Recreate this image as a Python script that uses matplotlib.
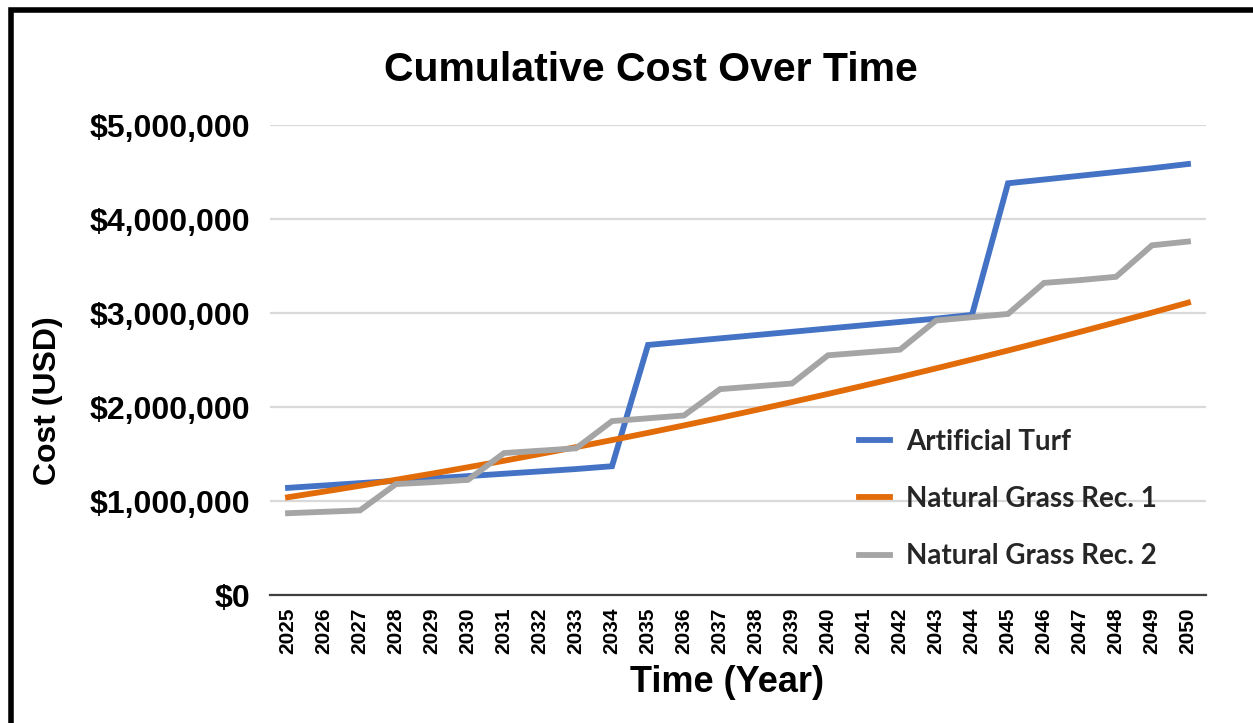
import matplotlib
matplotlib.use("Agg")
import matplotlib.pyplot as plt
from matplotlib.patches import Rectangle
from matplotlib.ticker import FuncFormatter

years = [str(y) for y in range(2025, 2051)]

# cumulative cost in USD
artificial_turf = [
    1.14e6, 1.165e6, 1.19e6, 1.215e6, 1.24e6, 1.265e6, 1.29e6, 1.315e6, 1.34e6, 1.37e6,
    2.66e6, 2.695e6, 2.73e6, 2.765e6, 2.80e6, 2.835e6, 2.87e6, 2.905e6, 2.94e6, 2.98e6,
    4.38e6, 4.42e6, 4.46e6, 4.50e6, 4.54e6, 4.585e6,
]
natural_grass_1 = [
    1.04e6, 1.10e6, 1.162e6, 1.226e6, 1.291e6, 1.359e6, 1.428e6, 1.50e6, 1.573e6, 1.648e6,
    1.725e6, 1.804e6, 1.885e6, 1.968e6, 2.053e6, 2.139e6, 2.228e6, 2.318e6, 2.411e6, 2.505e6,
    2.601e6, 2.699e6, 2.799e6, 2.901e6, 3.004e6, 3.11e6,
]
natural_grass_2 = [
    0.87e6, 0.885e6, 0.90e6, 1.18e6, 1.20e6, 1.225e6, 1.51e6, 1.535e6, 1.56e6, 1.85e6,
    1.88e6, 1.91e6, 2.19e6, 2.22e6, 2.25e6, 2.55e6, 2.58e6, 2.61e6, 2.92e6, 2.955e6,
    2.99e6, 3.32e6, 3.35e6, 3.385e6, 3.72e6, 3.76e6,
]
series_names = ["Artificial Turf", "Natural Grass Rec. 1", "Natural Grass Rec. 2"]
series_colors = ["#4472C4", "#E36C0A", "#A5A5A5"]

W, H = 1253, 723
fig = plt.figure(figsize=(W / 100, H / 100), dpi=100)


def px_box(left, top, right, bottom):
    return [left / W, 1 - bottom / H, (right - left) / W, (bottom - top) / H]


ax = fig.add_axes(px_box(270, 125, 1206, 595))
x = list(range(len(years)))
for vals, name, col in zip([artificial_turf, natural_grass_1, natural_grass_2], series_names, series_colors):
    ax.plot(x, vals, color=col, lw=4.2, label=name, solid_joinstyle="miter")

ax.set_xlim(-0.5, len(years) - 0.5)
ax.set_ylim(0, 5e6)
ax.set_yticks([0, 1e6, 2e6, 3e6, 4e6, 5e6])
ax.yaxis.set_major_formatter(FuncFormatter(lambda v, p: f"${v:,.0f}"))
ax.set_xticks(x)
ax.set_xticklabels(years, rotation=90)
ax.grid(axis="y", color="#D9D9D9", lw=1.6)
ax.set_axisbelow(True)
for s in ["top", "right", "left"]:
    ax.spines[s].set_visible(False)
ax.spines["bottom"].set_color("#404040")
ax.spines["bottom"].set_linewidth(1.6)
ax.tick_params(axis="y", length=0, pad=14, labelsize=23)
ax.tick_params(axis="x", length=0, pad=9, labelsize=15)
for lab in ax.get_yticklabels():
    lab.set_fontfamily("Liberation Sans")
    lab.set_fontweight("bold")
for lab in ax.get_xticklabels():
    lab.set_fontfamily(["Liberation Sans Narrow", "Liberation Sans"])
    lab.set_fontweight("bold")

leg = ax.legend(loc="upper left", bbox_to_anchor=(834 / W, 1 - 404 / H), bbox_transform=fig.transFigure,
                frameon=False, handlelength=1.1, handletextpad=0.6, labelspacing=1.12,
                prop={"family": "Lato", "weight": "bold", "size": 20})
for t in leg.get_texts():
    t.set_color("#262626")

fig.text(651 / W, 1 - 70 / H, "Cumulative Cost Over Time", ha="center", va="center",
         fontsize=29.5, fontweight="bold", family="Liberation Sans")
fig.text(48 / W, 1 - 401 / H, "Cost (USD)", ha="center", va="center", rotation=90,
         fontsize=23, fontweight="bold", family="Liberation Sans")
fig.text(727 / W, 1 - 683 / H, "Time (Year)", ha="center", va="center",
         fontsize=26, fontweight="bold", family="Liberation Sans")

# outer frame, cut off on the right and bottom like the source page
fig.patches.append(Rectangle((10.5 / W, -0.1), 1.2, 1 - 10.5 / H + 0.1, transform=fig.transFigure,
                             fill=False, edgecolor="black", lw=4, clip_on=False))

fig.savefig("out.png", dpi=100)
